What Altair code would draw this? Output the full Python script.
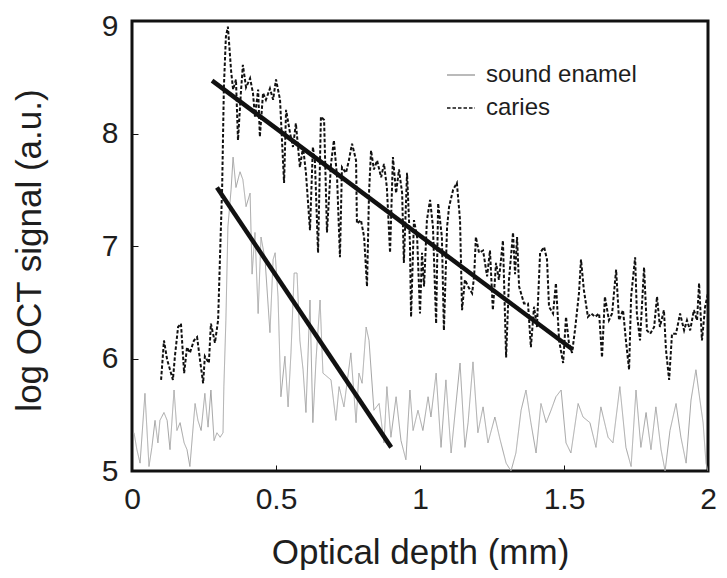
import altair as alt
import pandas as pd

# ---- data ----
sound_x = [0.007, 0.017, 0.028, 0.045, 0.059, 0.069, 0.080, 0.090, 0.097, 0.111,
           0.122, 0.132, 0.146, 0.156, 0.167, 0.181, 0.191, 0.201, 0.219, 0.229,
           0.240, 0.253, 0.264, 0.274, 0.285, 0.295, 0.306, 0.316, 0.319, 0.326,
           0.333, 0.344, 0.351, 0.361, 0.375, 0.385, 0.396, 0.410, 0.417, 0.427,
           0.438, 0.448, 0.462, 0.479, 0.490, 0.497, 0.507, 0.517, 0.531, 0.542,
           0.552, 0.563, 0.573, 0.583, 0.594, 0.604, 0.618, 0.628, 0.639, 0.653,
           0.663, 0.677, 0.691, 0.708, 0.719, 0.736, 0.760, 0.778, 0.788, 0.799,
           0.813, 0.823, 0.840, 0.858, 0.875, 0.885, 0.899, 0.917, 0.934, 0.951,
           0.965, 0.976, 0.993, 1.010, 1.028, 1.038, 1.056, 1.073, 1.090, 1.108,
           1.139, 1.156, 1.167, 1.184, 1.201, 1.219, 1.236, 1.260, 1.278, 1.299,
           1.316, 1.333, 1.351, 1.368, 1.385, 1.403, 1.420, 1.438, 1.455, 1.472,
           1.490, 1.507, 1.524, 1.549, 1.566, 1.590, 1.611, 1.628, 1.653, 1.670,
           1.694, 1.715, 1.733, 1.750, 1.767, 1.785, 1.802, 1.819, 1.837, 1.851,
           1.868, 1.889, 1.906, 1.924, 1.941, 1.958, 1.972, 1.983, 1.993, 2.000]
sound_y = [5.34, 5.19, 5.07, 5.69, 5.04, 5.21, 5.45, 5.25, 5.45, 5.52,
           5.45, 5.19, 5.72, 5.36, 5.43, 5.25, 5.19, 5.04, 5.60, 5.45,
           5.36, 5.69, 5.39, 5.72, 5.27, 5.34, 5.30, 5.34, 5.75, 6.34,
           7.17, 7.50, 7.79, 7.52, 7.66, 7.59, 7.35, 7.47, 6.75, 7.12,
           6.40, 7.08, 6.88, 6.23, 6.88, 6.94, 6.55, 5.66, 6.02, 5.57,
           6.05, 6.76, 6.76, 6.16, 5.90, 5.52, 6.52, 5.43, 5.99, 6.52,
           5.87, 5.84, 5.81, 5.45, 5.75, 5.57, 6.05, 5.43, 5.87, 5.78,
           6.28, 6.16, 5.54, 5.60, 5.25, 5.75, 5.30, 5.66, 5.27, 5.10,
           5.72, 5.36, 5.54, 5.36, 5.66, 5.48, 5.87, 5.21, 5.81, 5.16,
           5.96, 5.21, 5.43, 5.97, 5.34, 5.57, 5.25, 5.48, 5.28, 5.07,
           5.00, 5.16, 5.54, 5.72, 5.43, 5.16, 5.60, 5.43, 5.54, 5.66,
           5.72, 5.25, 5.16, 5.60, 5.48, 5.43, 5.21, 5.57, 5.30, 5.25,
           5.75, 5.21, 5.04, 5.72, 5.21, 5.52, 5.19, 5.57, 5.19, 5.00,
           5.36, 5.60, 5.30, 5.07, 5.63, 5.90, 5.63, 5.43, 5.07, 5.00]

caries_x = [0.101, 0.111, 0.122, 0.132, 0.142, 0.149, 0.160, 0.170, 0.181, 0.191,
            0.201, 0.215, 0.226, 0.236, 0.247, 0.253, 0.267, 0.274, 0.288, 0.299,
            0.306, 0.313, 0.319, 0.326, 0.333, 0.344, 0.351, 0.361, 0.368, 0.378,
            0.385, 0.396, 0.410, 0.420, 0.427, 0.438, 0.444, 0.455, 0.465, 0.479,
            0.490, 0.500, 0.514, 0.528, 0.535, 0.549, 0.559, 0.569, 0.583, 0.594,
            0.604, 0.618, 0.628, 0.635, 0.646, 0.656, 0.667, 0.677, 0.691, 0.701,
            0.712, 0.722, 0.729, 0.743, 0.753, 0.764, 0.778, 0.781, 0.795, 0.806,
            0.816, 0.823, 0.830, 0.840, 0.851, 0.865, 0.875, 0.885, 0.896, 0.906,
            0.917, 0.927, 0.938, 0.944, 0.955, 0.965, 0.969, 0.979, 0.990, 1.000,
            1.007, 1.014, 1.024, 1.035, 1.045, 1.056, 1.063, 1.076, 1.083, 1.094,
            1.101, 1.115, 1.128, 1.139, 1.146, 1.156, 1.167, 1.181, 1.188, 1.194,
            1.205, 1.219, 1.233, 1.243, 1.253, 1.264, 1.274, 1.288, 1.299, 1.309,
            1.323, 1.330, 1.337, 1.344, 1.361, 1.375, 1.385, 1.396, 1.406, 1.417,
            1.431, 1.441, 1.448, 1.462, 1.472, 1.483, 1.497, 1.507, 1.517, 1.528,
            1.538, 1.552, 1.559, 1.569, 1.583, 1.594, 1.608, 1.622, 1.632, 1.642,
            1.656, 1.667, 1.681, 1.691, 1.705, 1.715, 1.726, 1.733, 1.747, 1.753,
            1.764, 1.778, 1.788, 1.799, 1.813, 1.823, 1.833, 1.847, 1.854, 1.865,
            1.875, 1.889, 1.903, 1.917, 1.927, 1.938, 1.951, 1.962, 1.969, 1.979,
            1.990, 2.000]
caries_y = [5.81, 6.16, 5.99, 5.90, 5.81, 6.02, 6.28, 6.31, 5.87, 6.10,
            6.05, 6.16, 6.19, 5.99, 5.78, 6.02, 5.96, 6.31, 6.14, 6.34,
            6.94, 7.52, 8.41, 8.86, 8.95, 8.56, 8.39, 8.48, 7.94, 8.36,
            8.61, 8.41, 8.49, 8.36, 8.15, 8.39, 7.97, 8.36, 8.30, 8.40,
            8.30, 8.48, 8.30, 7.56, 8.21, 8.00, 7.88, 8.09, 7.70, 7.88,
            7.65, 7.14, 7.88, 7.76, 6.94, 8.15, 8.12, 7.12, 7.73, 7.94,
            7.61, 6.90, 7.70, 7.65, 7.76, 7.91, 7.76, 7.20, 7.23, 7.08,
            6.64, 7.47, 7.85, 7.68, 7.76, 7.61, 7.73, 7.52, 6.94, 7.79,
            7.47, 7.68, 7.47, 6.85, 7.65, 7.03, 6.37, 7.23, 7.08, 6.40,
            6.94, 6.64, 7.23, 7.41, 7.17, 6.31, 7.38, 7.08, 6.25, 7.17,
            7.35, 7.50, 7.56, 7.23, 6.43, 6.70, 6.64, 6.58, 6.73, 7.08,
            6.94, 6.96, 6.73, 6.96, 6.43, 6.85, 6.70, 7.05, 6.01, 6.70,
            7.12, 6.75, 7.08, 6.64, 6.49, 6.49, 6.10, 6.46, 6.28, 6.94,
            6.99, 6.88, 6.46, 6.40, 6.67, 6.16, 5.96, 6.37, 6.14, 6.05,
            6.25, 6.58, 6.88, 6.61, 6.37, 6.40, 6.37, 6.40, 6.01, 6.55,
            6.34, 6.40, 6.79, 6.34, 6.43, 6.16, 5.90, 6.55, 6.90, 6.40,
            6.16, 6.81, 6.25, 6.22, 6.28, 6.55, 6.28, 6.43, 6.08, 5.81,
            6.22, 6.22, 6.40, 6.25, 6.34, 6.25, 6.43, 6.34, 6.67, 6.16,
            6.46, 6.58]

fit_name = ["caries fit", "sound fit"]
fit_x1 = [0.278, 0.295]
fit_y1 = [8.47, 7.52]
fit_x2 = [1.530, 0.900]
fit_y2 = [6.08, 5.21]

series_names = ["sound enamel", "caries"]
x_ticks = [0, 0.5, 1, 1.5, 2]
y_ticks = [5, 6, 7, 8, 9]

FONT = "Liberation Sans"
TXT = "#1e1e1e"

sound_df = pd.DataFrame({"x": sound_x, "y": sound_y, "series": "sound enamel"})
caries_df = pd.DataFrame({"x": caries_x, "y": caries_y, "series": "caries"})
fit_df = pd.DataFrame({"name": fit_name, "x1": fit_x1, "y1": fit_y1,
                       "x2": fit_x2, "y2": fit_y2})

x_enc = alt.X("x:Q", scale=alt.Scale(domain=[0, 2], nice=False),
              axis=alt.Axis(values=x_ticks, format="~g", title="Optical depth (mm)",
                            offset=-6, tickSize=6, labelPadding=28,
                            labelFlush=False, labelBaseline="middle",
                            titleBaseline="alphabetic", titleY=98))
y_enc = alt.Y("y:Q", scale=alt.Scale(domain=[5, 9], nice=False),
              axis=alt.Axis(values=y_ticks, format="~g", title="log OCT signal (a.u.)",
                            offset=-6, tickSize=6, labelPadding=14,
                            labelFlush=False, labelBaseline="middle",
                            labelOffset={"condition": {"test": "datum.value == 9", "value": 5},
                                         "value": 0},
                            titleBaseline="alphabetic", titleX=-98, titleY=229))

color_enc = alt.Color("series:N",
                      scale=alt.Scale(domain=series_names, range=["#a4a4a4", "#111111"]),
                      legend=alt.Legend(title=None))
dash_enc = alt.StrokeDash("series:N",
                          scale=alt.Scale(domain=series_names, range=[[1, 0], [3.5, 2]]),
                          legend=alt.Legend(title=None))

sound_line = alt.Chart(sound_df).mark_line(strokeWidth=1, clip=True).encode(
    x=x_enc, y=y_enc, color=color_enc, strokeDash=dash_enc)
caries_line = alt.Chart(caries_df).mark_line(strokeWidth=2, clip=True).encode(
    x=x_enc, y=y_enc, color=color_enc, strokeDash=dash_enc)
fit_lines = alt.Chart(fit_df).mark_rule(strokeWidth=4.5, color="#111111").encode(
    x=alt.X("x1:Q"), y=alt.Y("y1:Q"), x2="x2:Q", y2="y2:Q")

chart = alt.layer(sound_line, caries_line, fit_lines).properties(
    width=576, height=450,
    autosize=alt.AutoSizeParams(type="none"),
    padding={"left": 124, "top": 13, "right": 10, "bottom": 99},
).configure_view(
    stroke="#111111", strokeWidth=3
).configure_axis(
    grid=False, domain=False,
    tickColor="#111111", tickWidth=1,
    labelFont=FONT, labelFontSize=30, labelColor=TXT,
    titleFont=FONT, titleFontSize=35, titleFontWeight="normal", titleColor=TXT,
).configure_legend(
    orient="none", legendX=314, legendY=39, padding=0,
    symbolType="stroke", symbolSize=784, symbolStrokeWidth=1.5,
    labelFont=FONT, labelFontSize=24, labelColor=TXT, labelOffset=10,
    rowPadding=6,
)

chart.save("out.html", embed_options={"renderer": "svg", "actions": False})
